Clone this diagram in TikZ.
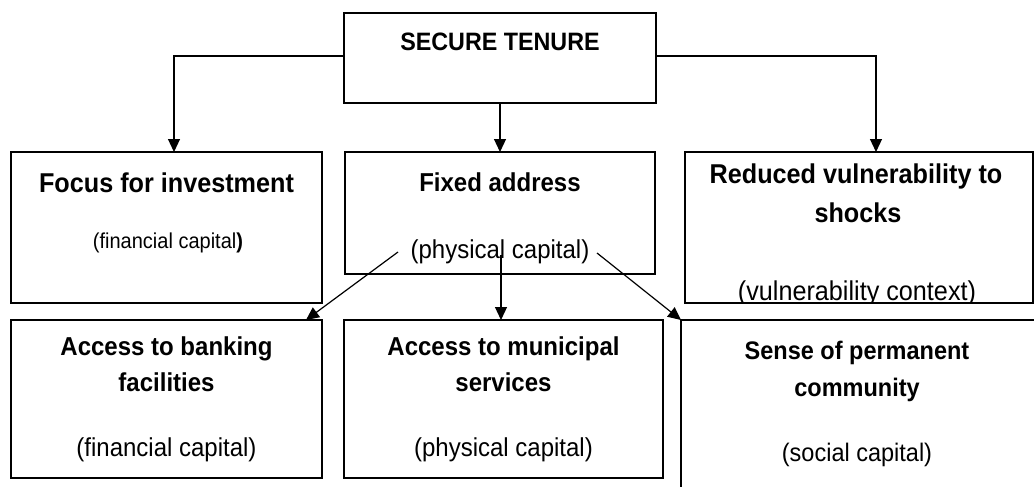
\documentclass[tikz,border=0pt]{standalone}
\usepackage{graphicx}
\usepackage{fontspec}
\setmainfont{Liberation Sans}
\usetikzlibrary{arrows.meta}
\newcommand\vs[1]{\scalebox{1}[1.08]{#1}}
\begin{document}
\begin{tikzpicture}[x=1pt,y=-1pt,
  box/.style={draw,line width=1.6pt,inner sep=0pt,outer sep=0pt},
  ttl/.style={font=\fontsize{#1}{26}\selectfont\bfseries,inner sep=0pt,anchor=base},
  ttl/.default=24,
  sub/.style={font=\fontsize{#1}{26}\selectfont,inner sep=0pt,anchor=base},
  sub/.default=24,
  arr/.style={line width=1.2pt,-{Triangle[length=13pt,width=12pt]}}]
\clip (0,0) rectangle (1034,487);
\fill[white] (0,0) rectangle (1034,487);
% boxes
\node[box,minimum width=312pt,minimum height=90pt] (top) at (500,58) {};
\node[box,minimum width=311pt,minimum height=151pt] (focus) at (166.5,227.5) {};
\node[box,minimum width=310pt,minimum height=122pt] (fixed) at (500,213) {};
\node[box,minimum width=348pt,minimum height=151pt] (reduced) at (859,227.5) {};
\node[box,minimum width=311pt,minimum height=158pt] (banking) at (166.5,399) {};
\node[box,minimum width=319pt,minimum height=158pt] (municipal) at (503.5,399) {};
\node[box,minimum width=380pt,minimum height=200pt] (sense) at (871,420) {};
% texts
\node[ttl=23.3] (t0) at (500,51) {\vs{SECURE TENURE}};
\node[ttl=25.2] (t1) at (166.5,192) {\vs{Focus for investment}};
\node[sub=20] (s1) at (168,248) {\vs{(financial capital\textbf{)}}};
\node[ttl=24] (t2) at (500,191) {\vs{Fixed address}};
\node[sub=24] (s2) at (500,258) {\vs{(physical capital)}};
\node[ttl=25.2] (t3a) at (856,183) {\vs{Reduced vulnerability to}};
\node[ttl=25.2] (t3b) at (858,222) {\vs{shocks}};
\begin{scope}
\clip (686,153) rectangle (1032,301);
\node[sub=25.2] (s3) at (857,300) {\vs{(vulnerability context)}};
\end{scope}
\node[ttl=24] (t4a) at (166.5,355) {\vs{Access to banking}};
\node[ttl=24] (t4b) at (166.5,391) {\vs{facilities}};
\node[sub=24] (s4) at (166.5,456) {\vs{(financial capital)}};
\node[ttl=24] (t5a) at (503.5,355) {\vs{Access to municipal}};
\node[ttl=24] (t5b) at (503.5,391) {\vs{services}};
\node[sub=24] (s5) at (503.5,456) {\vs{(physical capital)}};
\node[ttl=23.5] (t6a) at (857,359) {\vs{Sense of permanent}};
\node[ttl=23.5] (t6b) at (857,396) {\vs{community}};
\node[sub=23.5] (s6) at (857,461) {\vs{(social capital)}};
% connectors
\coordinate (lc) at (174,56);
\coordinate (rc) at (876,56);
\draw[arr] (top.west |- lc) -- (lc) -- (lc |- focus.north);
\draw[arr] (top.east |- rc) -- (rc) -- (rc |- reduced.north);
\draw[arr] (top.south -| fixed.north) -- (fixed.north);
\coordinate (fa) at (398,252);
\coordinate (fb) at (501,255);
\coordinate (fc) at (597,253);
\coordinate (bk) at (306,320);
\draw[arr] (fa) -- (bk);
\draw[arr] (fb) -- (fb |- municipal.north);
\draw[arr] (fc) -- (sense.north west);
\end{tikzpicture}
\end{document}
